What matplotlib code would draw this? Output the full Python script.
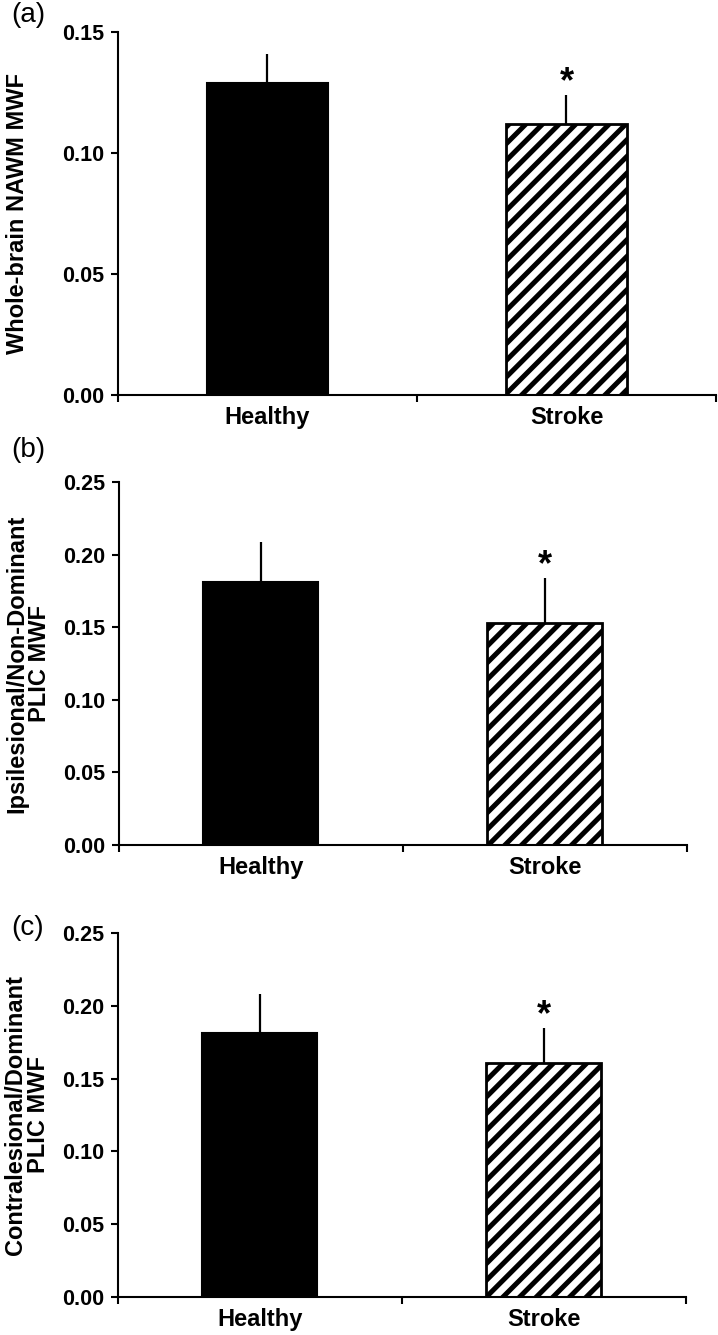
import numpy as np
import matplotlib
matplotlib.use('Agg')
import matplotlib.pyplot as plt

plt.rcParams['font.family'] = ['Liberation Sans', 'DejaVu Sans']
plt.rcParams['hatch.linewidth'] = 3.6

groups = ['Healthy', 'Stroke']

# mean MWF and SD for each panel
wb_mean = [0.129, 0.112]
wb_err = [0.012, 0.012]
ipsi_mean = [0.181, 0.153]
ipsi_err = [0.028, 0.031]
contra_mean = [0.181, 0.161]
contra_err = [0.027, 0.024]

panel_letters = ['(a)', '(b)', '(c)']
ylabels = ['Whole-brain NAWM MWF',
           'Ipsilesional/Non-Dominant\nPLIC MWF',
           'Contralesional/Dominant\nPLIC MWF']
ymax = [0.15, 0.25, 0.25]
ystep = [0.05, 0.05, 0.05]

fig = plt.figure(figsize=(7.18, 13.35), dpi=100)

# axes boxes in figure fractions (left, bottom, width, height)
boxes = [[0.1643, 0.7041, 0.8329, 0.2719],
         [0.1657, 0.3670, 0.7911, 0.2719],
         [0.1643, 0.0285, 0.7911, 0.2727]]
label_x = [-0.168, -0.160, -0.160]
letter_y = [0.989, 0.663, 0.305]

means = [wb_mean, ipsi_mean, contra_mean]
errs = [wb_err, ipsi_err, contra_err]

x = np.arange(len(groups))
for i in range(3):
    ax = fig.add_axes(boxes[i])
    ax.bar(x[0], means[i][0], width=0.405, color='black', edgecolor='black', linewidth=1.5, zorder=2)
    ax.bar(x[1], means[i][1], width=0.405, color='white', edgecolor='black', linewidth=2.0,
           hatch='//', zorder=2)
    ax.errorbar(x, means[i], yerr=[[0, 0], errs[i]], fmt='none', ecolor='black',
                elinewidth=1.6, capsize=0, zorder=1)
    ax.annotate('*', xy=(x[1], means[i][1] + errs[i][1]), xytext=(0, 2),
                textcoords='offset points', ha='center', va='baseline',
                fontsize=26, fontweight='bold')

    ax.set_xlim(-0.5, 1.5)
    ax.set_ylim(0, ymax[i])
    ax.set_yticks(np.arange(0, ymax[i] + 0.001, ystep[i]))
    ax.set_yticklabels(['%.2f' % v for v in np.arange(0, ymax[i] + 0.001, ystep[i])])
    ax.set_xticks(x)
    ax.set_xticklabels(groups)
    ax.set_xticks([-0.5, 0.5, 1.5], minor=True)
    ax.tick_params(axis='x', which='major', length=0, pad=8, labelsize=17)
    ax.tick_params(axis='x', which='minor', length=5, width=1.5, direction='out')
    ax.tick_params(axis='y', length=5, width=1.5, direction='out', pad=5, labelsize=15.5)
    for lab in ax.get_xticklabels() + ax.get_yticklabels():
        lab.set_fontweight('bold')

    ax.spines['top'].set_visible(False)
    ax.spines['right'].set_visible(False)
    ax.spines['left'].set_linewidth(1.5)
    ax.spines['bottom'].set_linewidth(1.5)

    ax.set_ylabel(ylabels[i], fontsize=17, fontweight='bold', va='center', linespacing=1.0)
    ax.yaxis.set_label_coords(label_x[i], 0.5)

    fig.text(0.015, letter_y[i], panel_letters[i], fontsize=20, ha='left', va='center')

fig.savefig('out.png', dpi=100)
